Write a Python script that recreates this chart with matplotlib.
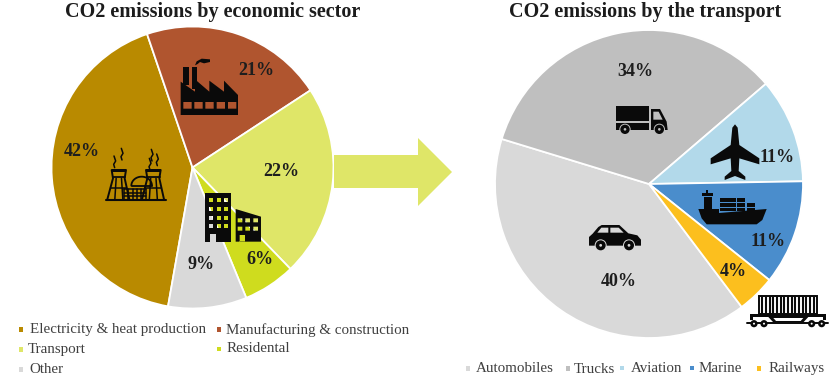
import numpy as np
import matplotlib
matplotlib.use("Agg")
import matplotlib.pyplot as plt
from matplotlib.path import Path
from matplotlib.patches import PathPatch, Polygon, Circle, Rectangle

# ---- data ----
sector_names = ["Electricity & heat production", "Manufacturing & construction",
                "Transport", "Residental", "Other"]
sector_values = [42, 21, 22, 6, 9]
sector_colors = ["#b98a00", "#b0552f", "#dfe668", "#cfdc1e", "#d9d9d9"]

transport_names = ["Automobiles", "Trucks", "Aviation", "Marine", "Railways"]
transport_values = [40, 34, 11, 11, 4]
transport_colors = ["#d9d9d9", "#bfbfbf", "#b2d9ea", "#4a8dcc", "#fcbf1e"]

title_left = "CO2 emissions by economic sector"
title_right = "CO2 emissions by the transport"

W, H = 831, 384
SERIF = "Liberation Serif"
fig = plt.figure(figsize=(W / 100, H / 100), dpi=100, facecolor="white")


def pie_axes(cx, cy, r):
    ax = fig.add_axes([(cx - r) / W, 1 - (cy + r) / H, 2 * r / W, 2 * r / H])
    ax.set_axis_off()
    return ax


ax1 = pie_axes(192.5, 167.5, 141)
ax1.pie(sector_values, colors=sector_colors, startangle=-100, counterclock=False,
        radius=1, wedgeprops=dict(edgecolor="white", linewidth=1.3), frame=False)
ax1.set_xlim(-1, 1); ax1.set_ylim(-1, 1)

ax2 = pie_axes(649, 184, 154)
ax2.pie(transport_values, colors=transport_colors, startangle=-53, counterclock=False,
        radius=1, wedgeprops=dict(edgecolor="white", linewidth=1.3), frame=False)
ax2.set_xlim(-1, 1); ax2.set_ylim(-1, 1)

# overlay in pixel coordinates for arrow, icons and text
ov = fig.add_axes([0, 0, 1, 1], facecolor="none")
ov.set_xlim(0, W)
ov.set_ylim(H, 0)
ov.set_axis_off()

K = "#0a0a0a"


def z(pts, ox, oy, s=3.0):
    return [(ox + x / s, oy + y / s) for x, y in pts]


def rect(x0, y0, x1, y1):
    return [(x0, y0), (x1, y0), (x1, y1), (x0, y1)]


def solid(outer, holes=(), color=K, zo=5):
    verts, codes = [], []
    for i, ring in enumerate([outer] + list(holes)):
        ring = list(ring)
        area = sum(ring[j][0] * ring[(j + 1) % len(ring)][1] - ring[(j + 1) % len(ring)][0] * ring[j][1]
                   for j in range(len(ring)))
        if (i == 0) != (area > 0):
            ring = ring[::-1]
        verts += ring + [ring[0]]
        codes += [Path.MOVETO] + [Path.LINETO] * (len(ring) - 1) + [Path.CLOSEPOLY]
    ov.add_patch(PathPatch(Path(verts, codes), facecolor=color, edgecolor="none", zorder=zo))


def line(pts, lw=1.0, color=K, zo=5):
    xs, ys = zip(*pts)
    ov.plot(xs, ys, color=color, lw=lw, solid_capstyle="round", zorder=zo)


def wheel(cx, cy, r, bg, ox, oy, s=3.0):
    X, Y = ox + cx / s, oy + cy / s
    ov.add_patch(Circle((X, Y), (r + 3) / s, fc=bg, ec="none", zorder=6))
    ov.add_patch(Circle((X, Y), r / s, fc=K, ec="none", zorder=7))
    ov.add_patch(Circle((X, Y), (r * 0.28) / s, fc=bg, ec="none", zorder=8))


# arrow between pies
ov.add_patch(Polygon([(334, 155), (418, 155), (418, 138), (452, 172), (418, 206), (418, 188), (334, 188)],
                     closed=True, fc="#dfe668", ec="none", zorder=2))

# --- factory icon ---
ox, oy = 100, 50
fac = [(242, 195), (242, 95), (285, 125), (285, 88), (328, 125), (328, 92), (372, 125), (372, 92),
       (414, 135), (414, 195)]
solid(z(fac, ox, oy), [z(rect(a, 156, a + 25, 176), ox, oy) for a in (250, 283, 316, 350, 384)])
solid(z(rect(250, 52, 266, 105), ox, oy))
solid(z(rect(276, 52, 291, 118), ox, oy))
solid(z([(285, 46), (290, 34), (305, 26), (330, 28), (330, 36), (312, 40), (300, 36), (293, 42)], ox, oy))

# --- power plant icon ---
line(z([(18, 449), (198, 449)], ox, oy), 1.5)
for a, b, c, d in ((35, 78, 22, 88), (138, 182, 126, 192)):
    solid(z(rect(a, 358, b, 366), ox, oy))
    line(z([(a, 360), (a + 4, 385), (c, 448)], ox, oy), 1.4)
    line(z([(b, 360), (b - 4, 385), (d, 448)], ox, oy), 1.4)
    line(z([(a + 3, 382), (b - 3, 382)], ox, oy), 1.3)
    m = (a + b) / 2
    line(z([(m - 8, 385), (m - 12, 448)], ox, oy), 1.1)
    line(z([(m + 8, 385), (m + 12, 448)], ox, oy), 1.1)
    line(z([(a - 1, 415), (b + 1, 415)], ox, oy), 1.1)
th = np.linspace(np.pi, 0, 24)
line(z([(125 + 31 * np.cos(t), 407 - 27 * np.sin(t)) for t in th], ox, oy), 1.3)
line(z([(95, 407), (156, 407)], ox, oy), 1.3)
for yy in (418, 428, 438):
    line(z([(72, yy), (138, yy)], ox, oy), 1.1)
for xx in (72, 85, 98, 111, 124, 138):
    line(z([(xx, 418), (xx, 448)], ox, oy), 1.1)
for xx, y0 in ((44, 318), (66, 295), (150, 325), (172, 312), (156, 298)):
    line(z([(xx, y0 + 35), (xx - 3, y0 + 25), (xx + 3, y0 + 15), (xx - 2, y0)], ox, oy), 1.1)

# --- buildings icon ---
ox, oy = 195, 185
holes = []
for yy in (40, 65, 92, 118):
    for xx in (42, 65, 87):
        holes.append(z(rect(xx, yy, xx + 13, yy + 12), ox, oy))
holes.append(z(rect(46, 148, 62, 171), ox, oy))
solid(z(rect(30, 25, 108, 170), ox, oy), holes)
holes = []
for yy in (100, 125):
    for xx in (128, 151, 175):
        holes.append(z(rect(xx, yy, xx + 14, yy + 12), ox, oy))
holes.append(z(rect(134, 150, 150, 171), ox, oy))
solid(z([(122, 72), (198, 95), (198, 170), (122, 170)], ox, oy), holes)

# --- truck icon ---
ox, oy = 600, 95
bg = transport_colors[1]
solid(z(rect(47, 32, 146, 78), ox, oy))
solid(z(rect(47, 85, 146, 105), ox, oy))
solid(z([(153, 42), (180, 42), (200, 80), (203, 105), (153, 105)], ox, oy),
      [z([(160, 50), (176, 50), (188, 74), (160, 74)], ox, oy)])
wheel(75, 103, 14, bg, ox, oy)
wheel(178, 103, 14, bg, ox, oy)

# --- plane icon ---
right = [(405, 88), (413, 98), (418, 150), (478, 190), (478, 208), (418, 190), (416, 228), (436, 245),
         (436, 255), (405, 243)]
left = [(810 - x, y) for x, y in right[::-1][1:-1]]
solid(z(right + left, ox, oy))

# --- ship icon ---
solid(z([(295, 342), (357, 342), (357, 354), (500, 342), (487, 375), (470, 388), (320, 388), (305, 370)], ox, oy))
solid(z(rect(313, 306, 335, 342), ox, oy))
solid(z(rect(306, 294, 338, 304), ox, oy))
solid(z(rect(318, 284, 323, 294), ox, oy))
for y0, y1, xe in ((310, 321, 442), (325, 336, 470), (339, 349, 470)):
    for xa in (360, 385, 412, 442):
        if xa < xe:
            solid(z(rect(xa, y0, min(xa + 24, xe), y1), ox, oy))

# --- car icon ---
ox, oy = 580, 215
bg = transport_colors[0]
solid(z([(27, 92), (27, 66), (38, 56), (55, 36), (65, 30), (118, 30), (145, 55), (172, 61), (183, 74), (183, 92)], ox, oy),
      [z([(64, 38), (85, 38), (85, 53), (52, 53)], ox, oy),
       z([(91, 38), (116, 38), (131, 53), (91, 53)], ox, oy)])
wheel(62, 91, 15, bg, ox, oy)
wheel(147, 91, 15, bg, ox, oy)

# --- rail wagon icon ---
ov.add_patch(Rectangle((ox + 537 / 3, oy + 243 / 3), 175 / 3, 55 / 3, fc="white", ec=K, lw=1.4, zorder=5))
for xx in range(547, 708, 11):
    line(z([(xx, 246), (xx, 296)], ox, oy), 1.5)
solid(z(rect(510, 298, 738, 306), ox, oy))
solid(z(rect(510, 298, 520, 315), ox, oy))
solid(z(rect(728, 298, 738, 315), ox, oy))
solid(z([(565, 306), (685, 306), (670, 322), (580, 322)], ox, oy),
      [z([(580, 309), (670, 309), (662, 318), (588, 318)], ox, oy)])
line(z([(502, 323), (745, 323)], ox, oy), 1.4)
for xx in (522, 552, 695, 725):
    ov.add_patch(Circle((ox + xx / 3, oy + 326 / 3), 3.6, fc=K, ec="none", zorder=6))
    ov.add_patch(Circle((ox + xx / 3, oy + 326 / 3), 1.0, fc="white", ec="none", zorder=7))

# --- titles ---
title_font = dict(family=SERIF, fontweight="bold", fontsize=14.5, color="#1c1c1c", ha="center", va="center", zorder=10)
ov.text(212.7, 12, title_left, **title_font)
ov.text(645, 12, title_right, **title_font)

# --- value labels ---
pct_font = dict(family=SERIF, fontweight="bold", fontsize=13, color="#1e1e1e", ha="center", va="center", zorder=10)
for v, (x, y) in zip(sector_values, [(81.7, 152), (256, 70.5), (281.7, 171), (260, 259.5), (201, 264.5)]):
    ov.text(x, y, f"{v}%", **pct_font)
for v, (x, y) in zip(transport_values, [(618.3, 281), (635, 72), (776.7, 157), (768.3, 241), (733.3, 272)]):
    ov.text(x, y, f"{v}%", **pct_font)

# --- legends ---
leg_font = dict(family=SERIF, fontsize=10.8, color="#3f3f3f", ha="left", va="center", zorder=10)


def legend_entry(name, color, mx, tx, my, ty):
    ov.add_patch(Rectangle((mx - 2.2, my - 2.2), 4.4, 4.4, fc=color, ec="none", zorder=9))
    ov.text(tx, ty, name, **leg_font)


left_pos = [(21, 29.5, 329.5, 330), (219, 225.7, 329.5, 330), (21, 28, 349.5, 350),
            (219, 226.7, 349, 349), (21, 29.5, 369.3, 369.5)]
for n, c, p in zip(sector_names, sector_colors, left_pos):
    legend_entry(n, c, *p)
right_pos = [(467.7, 476, 368.5, 368), (567.7, 574, 368.5, 369.5), (622, 630.7, 368, 368),
             (691.7, 698.3, 368, 368), (758.7, 768.3, 368.5, 368.5)]
for n, c, p in zip(transport_names, transport_colors, right_pos):
    legend_entry(n, c, *p)

fig.savefig("out.png", dpi=100, facecolor="white")
